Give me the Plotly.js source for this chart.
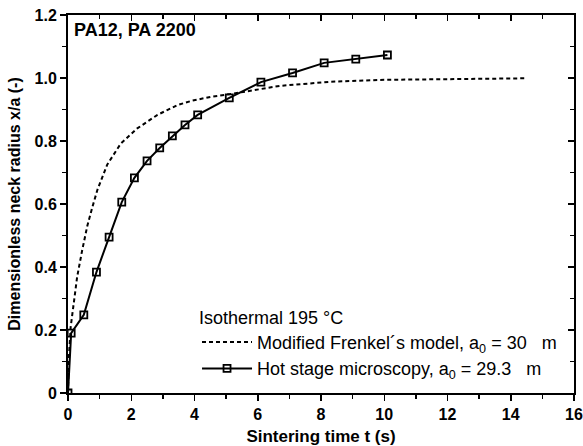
<!DOCTYPE html>
<html>
<head>
<meta charset="utf-8">
<script src="https://cdn.plot.ly/plotly-3.0.1.min.js"></script>
<style>html,body{margin:0;padding:0;background:#fff;}#chart{width:583px;height:446px;}</style>
</head>
<body>
<div id="chart"></div>
<script>
// Modified Frenkel's model (dashed)
const modelTime = [0, 0.02, 0.085, 0.19, 0.29, 0.45, 0.61, 0.77, 0.93, 1.24, 1.67, 2.19, 2.83, 3.46, 3.93, 4.5, 5.13, 6.7, 8.3, 9.87, 12, 14.46];
const modelNeck = [0, 0.1, 0.21, 0.286, 0.369, 0.454, 0.53, 0.59, 0.645, 0.725, 0.792, 0.84, 0.883, 0.914, 0.928, 0.94, 0.949, 0.975, 0.988, 0.994, 0.997, 0.999];
// Hot stage microscopy (solid with squares)
const hsmTime = [0, 0.1, 0.5, 0.9, 1.3, 1.7, 2.1, 2.5, 2.9, 3.3, 3.7, 4.1, 5.1, 6.1, 7.1, 8.1, 9.1, 10.1];
const hsmNeck = [0, 0.19, 0.248, 0.384, 0.495, 0.606, 0.683, 0.737, 0.778, 0.816, 0.851, 0.883, 0.937, 0.987, 1.016, 1.048, 1.06, 1.073];
// tick labels
const xTickVals = [0, 2, 4, 6, 8, 10, 12, 14, 16];
const xTickText = ['0', '2', '4', '6', '8', '10', '12', '14', '16'];
const yTickVals = [0, 0.2, 0.4, 0.6, 0.8, 1.0, 1.2];
const yTickText = ['0', '0.2', '0.4', '0.6', '0.8', '1.0', '1.2'];

const NB = '\u00a0';
const traces = [
  {
    x: modelTime, y: modelNeck, type: 'scatter', mode: 'lines',
    name: 'Modified Frenkel\u00b4s model, a<sub>0</sub> = 30' + NB + NB + NB + 'm',
    line: {color: '#000', width: 2, dash: '4px,3px'}
  },
  {
    x: hsmTime, y: hsmNeck, type: 'scatter', mode: 'lines+markers',
    name: 'Hot stage microscopy, a<sub>0</sub> = 29.3' + NB + NB + NB + 'm',
    line: {color: '#000', width: 2},
    marker: {symbol: 'square-open', size: 7, color: '#000', line: {width: 1.8, color: '#000'}}
  },
  {
    x: [0], y: [0], xaxis: 'x2', yaxis: 'y2', type: 'scatter', mode: 'markers',
    marker: {opacity: 0}, showlegend: false, hoverinfo: 'skip'
  }
];

const FAM = 'Liberation Sans, Arial, sans-serif';
const tickFont = {family: FAM, size: 16, color: '#000', weight: 'bold'};
const layout = {
  width: 583, height: 446,
  margin: {l: 68, r: 9, t: 15, b: 53},
  paper_bgcolor: '#fff', plot_bgcolor: '#fff',
  font: {family: FAM, color: '#000'},
  showlegend: true,
  xaxis: {
    range: [0, 16], tickvals: xTickVals, ticktext: xTickText,
    ticks: 'outside', ticklen: 6, tickwidth: 1.5, tickcolor: '#000',
    minor: {dtick: 1, ticks: 'outside', ticklen: 4, tickwidth: 1.5, tickcolor: '#000'},
    showline: true, linewidth: 2, linecolor: '#000', showgrid: false, zeroline: false,
    tickfont: tickFont,
    title: {text: 'Sintering time t (s)', font: {family: FAM, size: 17, weight: 'bold', color: '#000'}, standoff: 9}
  },
  yaxis: {
    range: [0, 1.2], tickvals: yTickVals, ticktext: yTickText,
    ticks: 'outside', ticklen: 6, tickwidth: 1.5, tickcolor: '#000',
    minor: {dtick: 0.1, ticks: 'outside', ticklen: 4, tickwidth: 1.5, tickcolor: '#000'},
    showline: true, linewidth: 2, linecolor: '#000', showgrid: false, zeroline: false,
    tickfont: tickFont,
    title: {text: 'Dimensionless neck radius x/a (-)', font: {family: FAM, size: 16, weight: 'bold', color: '#000'}, standoff: 10}
  },
  xaxis2: {
    overlaying: 'x', side: 'top', range: [0, 16], tickvals: xTickVals, showticklabels: false,
    ticks: 'inside', ticklen: 6, tickwidth: 1.5, tickcolor: '#000',
    minor: {dtick: 1, ticks: 'inside', ticklen: 4, tickwidth: 1.5, tickcolor: '#000'},
    showline: true, linewidth: 2, linecolor: '#000', showgrid: false, zeroline: false
  },
  yaxis2: {
    overlaying: 'y', side: 'right', range: [0, 1.2], tickvals: yTickVals, showticklabels: false,
    ticks: 'inside', ticklen: 6, tickwidth: 1.5, tickcolor: '#000',
    minor: {dtick: 0.1, ticks: 'inside', ticklen: 4, tickwidth: 1.5, tickcolor: '#000'},
    showline: true, linewidth: 2, linecolor: '#000', showgrid: false, zeroline: false
  },
  legend: {
    x: 0.255, y: 0.245, xanchor: 'left', yanchor: 'top',
    bgcolor: 'rgba(0,0,0,0)', borderwidth: 0,
    font: {family: FAM, size: 18, color: '#000'},
    title: {text: 'Isothermal 195 °C', font: {family: FAM, size: 18, color: '#000'}, side: 'top'},
    itemwidth: 50, tracegroupgap: 0
  },
  annotations: [
    {text: 'PA12, PA 2200', xref: 'paper', yref: 'paper', x: 0.008, y: 0.992, xanchor: 'left', yanchor: 'top',
     showarrow: false, font: {family: FAM, size: 18, weight: 'bold', color: '#000'}}
  ]
};

Plotly.newPlot('chart', traces, layout, {displayModeBar: false, staticPlot: true});
</script>
</body>
</html>
